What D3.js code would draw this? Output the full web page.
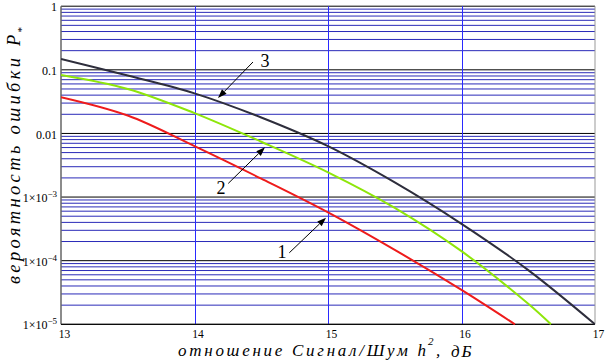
<!DOCTYPE html>
<html><head><meta charset="utf-8">
<script src="https://cdn.jsdelivr.net/npm/d3@7"></script>
<style>body{margin:0;background:#fff}svg{display:block}text{font-family:"Liberation Serif","Times New Roman",serif}</style>
</head><body><svg id="c" width="607" height="364"></svg>
<script>
// ---- data ----
const snr1 = [13, 13.5, 14, 14.5, 15, 15.5, 16, 16.4];
const p1   = [3.72e-2, 1.91e-2, 6.31e-3, 1.95e-3, 5.75e-4, 1.48e-4, 3.47e-5, 1.0e-5];
const snr2 = [13, 13.5, 14, 14.5, 15, 15.5, 16, 16.5, 16.67];
const p2   = [8.32e-2, 5.01e-2, 2.09e-2, 7.41e-3, 2.45e-3, 6.76e-4, 1.41e-4, 2.1e-5, 1.0e-5];
const snr3 = [13, 13.5, 14, 14.5, 15, 15.5, 16, 16.5, 17];
const p3   = [0.148, 8.13e-2, 4.27e-2, 1.78e-2, 6.31e-3, 1.70e-3, 3.80e-4, 7.1e-5, 1.0e-5];
const xTicks = [13, 14, 15, 16, 17];
const yTicks = [1, 0.1, 0.01, 1e-3, 1e-4, 1e-5];
const yTickLabels = ["1", "0.1", "0.01", "1×10|−3", "1×10|−4", "1×10|−5"];
const curveNames = ["1", "2", "3"];
// annotation: label position, arrow tail, arrow tip (data coords)
const annLabel = [[14.655, 1.10e-4], [14.199, 1.12e-3], [14.528, 0.110]];
const annTail  = [[14.710, 1.33e-4], [14.253, 1.64e-3], [14.438, 0.1327]];
const annTip   = [[14.985, 4.74e-4], [14.528, 6.05e-3], [14.176, 0.036]];

const svg = d3.select("#c");
const x = d3.scaleLinear().domain([13, 17]).range([61, 595]);
const y = d3.scaleLog().domain([1e-5, 1]).range([324.3, 6.2]);

// horizontal grid
const g = svg.append("g");
y.ticks().forEach(v => {
  const lead = Math.round(v / Math.pow(10, Math.floor(Math.log10(v) + 1e-9)));
  g.append("line").attr("x1", x(13)).attr("x2", x(17)).attr("y1", y(v)).attr("y2", y(v))
    .attr("stroke", lead === 1 ? "#000" : "#2a2ab8").attr("stroke-width", 1);
});
// vertical grid
xTicks.slice(1, -1).forEach(v => {
  g.append("line").attr("x1", Math.round(x(v)) + 0.5).attr("x2", Math.round(x(v)) + 0.5).attr("y1", y(1)).attr("y2", y(1e-5))
    .attr("stroke", "#2a2aff").attr("stroke-width", 1);
});
// frame
g.append("line").attr("x1", x(13)).attr("x2", x(13)).attr("y1", y(1)).attr("y2", y(1e-5)).attr("stroke", "#666").attr("stroke-width", 1.5);
g.append("line").attr("x1", x(17)).attr("x2", x(17)).attr("y1", y(1)).attr("y2", y(1e-5)).attr("stroke", "#999").attr("stroke-width", 1);
g.append("line").attr("x1", x(13)).attr("x2", x(17)).attr("y1", y(1e-5)).attr("y2", y(1e-5)).attr("stroke", "#000").attr("stroke-width", 1);

// curves
svg.append("clipPath").attr("id", "clip").append("rect")
  .attr("x", x(13)).attr("y", y(1)).attr("width", x(17) - x(13)).attr("height", y(1e-5) - y(1) + 1);
const line = d3.line().x(d => x(d[0])).y(d => y(d[1])).curve(d3.curveCatmullRom.alpha(0.5));
const series = [
  {xs: snr1, ys: p1, color: "#ee1b1b"},
  {xs: snr2, ys: p2, color: "#8ee60a"},
  {xs: snr3, ys: p3, color: "#2e2e3c"}
];
svg.append("g").attr("clip-path", "url(#clip)").selectAll("path").data(series).join("path")
  .attr("d", s => line(s.xs.map((v, i) => [v, s.ys[i]])))
  .attr("fill", "none").attr("stroke", s => s.color).attr("stroke-width", 2);

// axes
const ax = svg.append("g").attr("transform", `translate(0,${y(1e-5)})`)
  .call(d3.axisBottom(x).tickValues(xTicks).tickSize(0).tickPadding(6).tickFormat(d3.format("d")));
ax.select(".domain").remove();
ax.selectAll("text").attr("font-size", 11.5).attr("font-family", "Liberation Serif").attr("fill", "#000").attr("dx", 3);

const ay = svg.append("g").attr("transform", `translate(${x(13)},0)`)
  .call(d3.axisLeft(y).tickValues(yTicks).tickSize(0).tickPadding(4).tickFormat(() => ""));
ay.select(".domain").remove();
ay.selectAll(".tick text").each(function(d, i) {
  const t = d3.select(this).attr("font-size", 12).attr("font-family", "Liberation Serif").attr("fill", "#000").attr("dy", "0.38em");
  const parts = yTickLabels[i].split("|");
  t.append("tspan").text(parts[0]);
  if (parts[1]) t.append("tspan").attr("dy", -5).attr("font-size", 9).text(parts[1]);
});

// annotations
const ann = svg.append("g");
curveNames.forEach((nm, i) => {
  const tx = x(annTail[i][0]), ty = y(annTail[i][1]);
  const hx = x(annTip[i][0]), hy = y(annTip[i][1]);
  const ang = Math.atan2(hy - ty, hx - tx), L = 9, W = 3.2;
  const bx = hx - L * Math.cos(ang), by = hy - L * Math.sin(ang);
  ann.append("line").attr("x1", tx).attr("y1", ty).attr("x2", bx).attr("y2", by).attr("stroke", "#000").attr("stroke-width", 1);
  ann.append("path").attr("d", `M${hx},${hy}L${bx - W * Math.sin(ang)},${by + W * Math.cos(ang)}L${bx + W * Math.sin(ang)},${by - W * Math.cos(ang)}Z`).attr("fill", "#000");
  ann.append("text").attr("x", x(annLabel[i][0])).attr("y", y(annLabel[i][1])).attr("text-anchor", "middle")
    .attr("font-size", 18).text(nm);
});

// titles
svg.append("text").attr("x", 178).attr("y", 356).attr("font-size", 17).attr("font-style", "italic")
  .attr("textLength", 248).attr("lengthAdjust", "spacing").text("отношение Сигнал/Шум h");
svg.append("text").attr("x", 428).attr("y", 345).attr("font-size", 11).attr("font-style", "italic").text("2");
svg.append("text").attr("x", 436).attr("y", 356).attr("font-size", 17).attr("font-style", "italic").text(",");
svg.append("text").attr("x", 451).attr("y", 357).attr("font-size", 17).attr("font-style", "italic")
  .attr("letter-spacing", 2).text("дБ");

svg.append("text").attr("transform", "translate(20,284) rotate(-90)").attr("font-size", 18.5).attr("font-style", "italic")
  .attr("textLength", 226).attr("lengthAdjust", "spacing").text("вероятность ошибки");
svg.append("text").attr("transform", "translate(20,46) rotate(-90)").attr("font-size", 18.5).attr("font-style", "italic").text("P");
svg.append("text").attr("transform", "translate(25,33) rotate(-90)").attr("font-size", 11).attr("font-style", "italic").text("*");
</script></body></html>
